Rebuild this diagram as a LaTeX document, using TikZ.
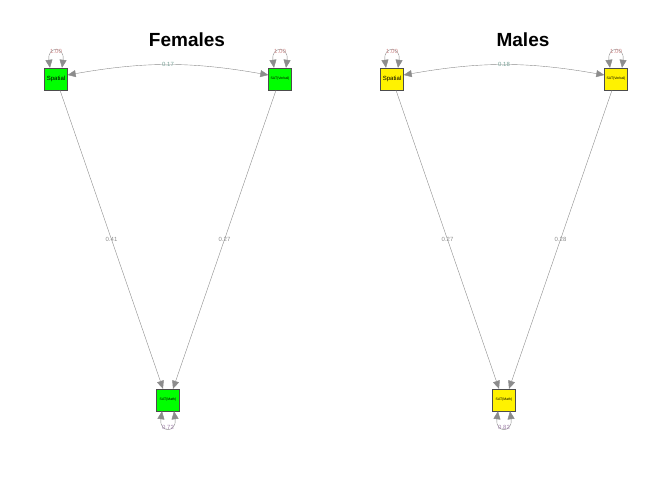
\documentclass[tikz,border=0pt]{standalone}
\usepackage{fontspec}
\setmainfont{Liberation Sans}
\usetikzlibrary{arrows.meta,positioning}
\definecolor{pathgray}{RGB}{140,140,140}
\definecolor{varred}{RGB}{205,140,140}
\definecolor{covgreen}{RGB}{120,160,150}
\definecolor{resvio}{RGB}{160,130,170}

\begin{document}
\begin{tikzpicture}[x=1pt,y=-1pt,
    var/.style={draw=black!70,line width=0.4pt,minimum width=23pt,minimum height=22pt,inner sep=0pt,fill=#1},
    arr/.style={draw=pathgray,line width=0.4pt,-{Triangle[length=8pt,width=7pt,fill=pathgray]}},
    darr/.style={draw=pathgray,line width=0.4pt,{Triangle[length=8pt,width=7pt,fill=pathgray]}-{Triangle[length=8pt,width=7pt,fill=pathgray]}},
    lab/.style={font=\fontsize{6}{6}\selectfont,inner sep=0.5pt}]
    \useasboundingbox (0,0) rectangle (672,480);
    \foreach \g/\dx/\col/\cov/\ps/\pv/\res in {F/0/green/0.17/0.41/0.27/0.72,M/336/yellow/0.18/0.27/0.28/0.82} {
        \node[var=\col,font=\fontsize{6}{6}\selectfont] (spa\g) at (56+\dx,79) {Spatial};
        \node[var=\col,font=\fontsize{3.5}{3.5}\selectfont] (verb\g) at (280+\dx,79) {SAT(Verbal)};
        \node[var=\col,font=\fontsize{3.5}{3.5}\selectfont] (math\g) at (168+\dx,400) {SAT(Math)};
        % variances
        \draw[darr] ([xshift=-6]spa\g.north) .. controls +(-3,-22) and +(3,-22) .. node[lab,text=varred,pos=0.5] {1.00} ([xshift=6]spa\g.north);
        \draw[darr] ([xshift=-6]verb\g.north) .. controls +(-3,-22) and +(3,-22) .. node[lab,text=varred,pos=0.5] {1.00} ([xshift=6]verb\g.north);
        \draw[darr] ([xshift=-6]math\g.south) .. controls +(-3,22) and +(3,22) .. node[lab,text=resvio,pos=0.5] {\res} ([xshift=6]math\g.south);
        % covariance and paths
        \draw[darr] ([yshift=4]spa\g.east) to[bend left=10] node[lab,text=covgreen] {\cov} ([yshift=4]verb\g.west);
        \draw[arr] ([xshift=4]spa\g.south) -- node[lab,text=pathgray] {\ps} ([xshift=-5]math\g.north);
        \draw[arr] ([xshift=-4]verb\g.south) -- node[lab,text=pathgray] {\pv} ([xshift=5]math\g.north);
    }
    \node[font=\fontsize{19}{19}\selectfont\bfseries] (titF) at (187,40) {Females};
    \node[font=\fontsize{19}{19}\selectfont\bfseries] (titM) at (523,40) {Males};
\end{tikzpicture}
\end{document}
